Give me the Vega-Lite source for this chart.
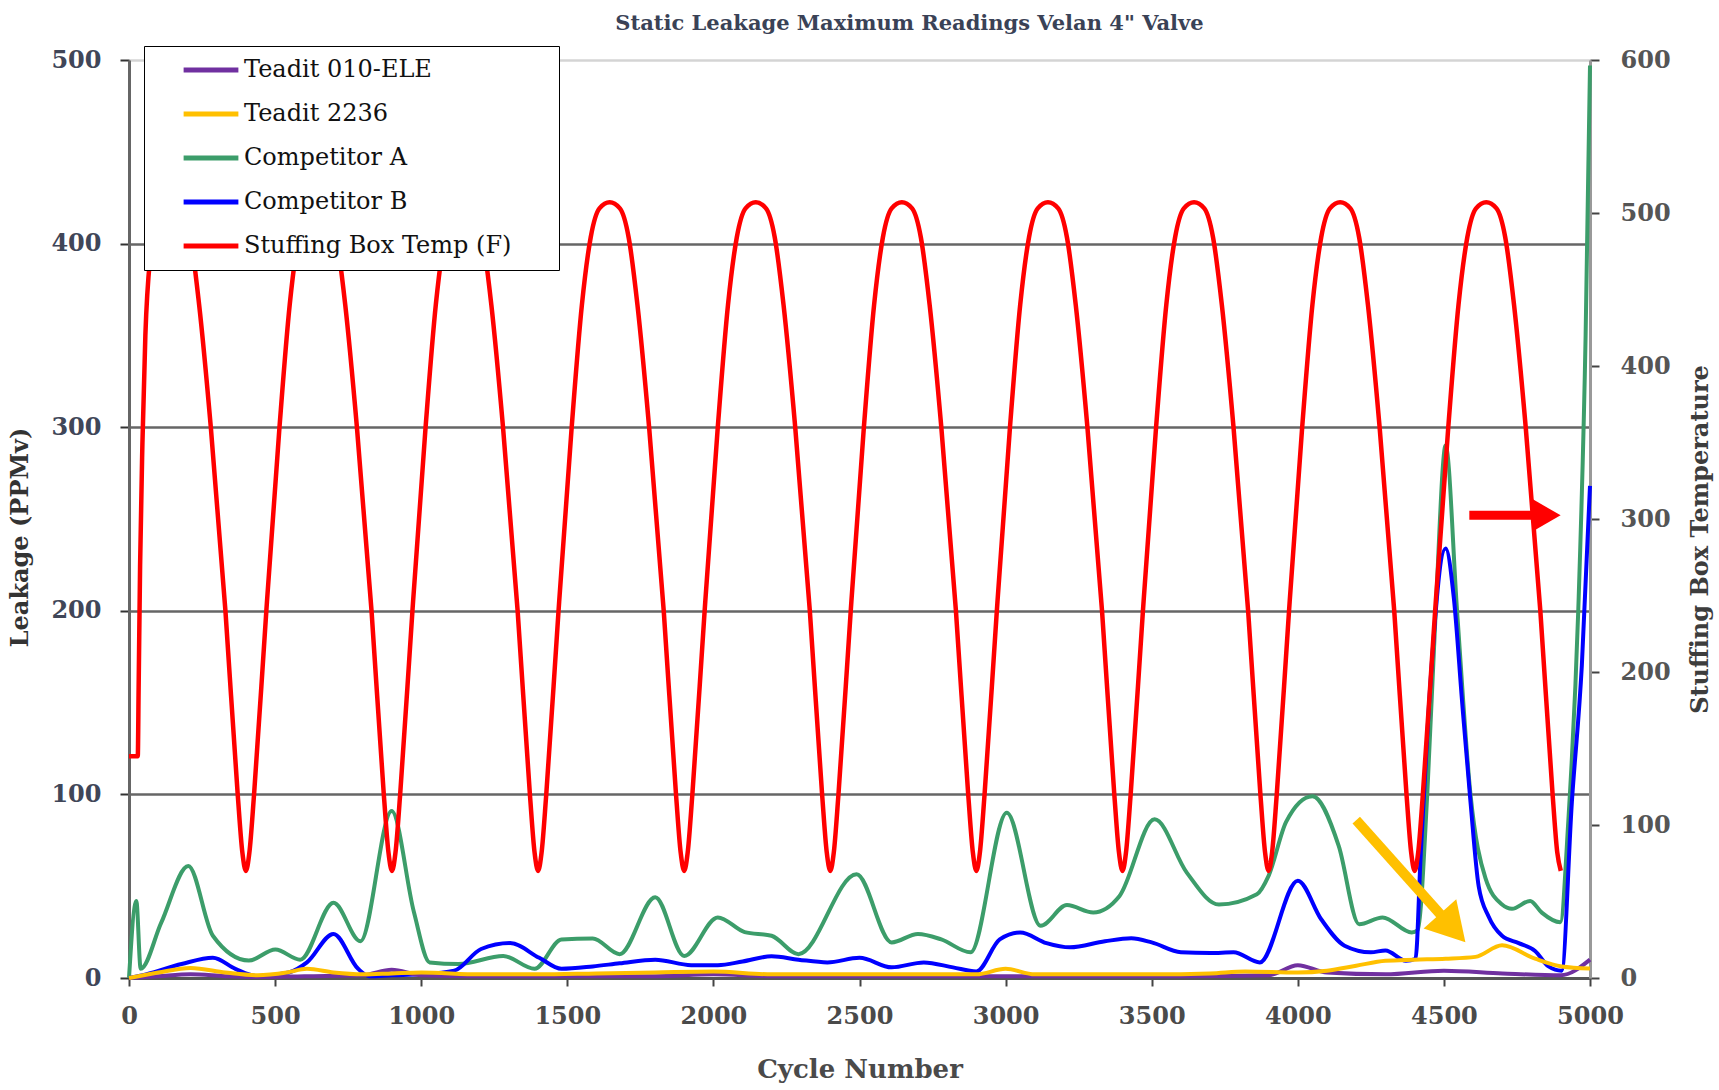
{
  "$schema": "https://vega.github.io/schema/vega-lite/v6.json",
  "autosize": {"type": "none"},
  "width": 1461,
  "height": 918,
  "padding": {"left": 129, "top": 60, "right": 129, "bottom": 112},
  "background": "white",
  "title": {"text": "Static Leakage Maximum Readings Velan 4\" Valve", "font": "DejaVu Serif", "fontSize": 21, "fontWeight": "bold", "color": "#3a4256", "anchor": "middle", "dx": 50, "offset": 12},
  "config": {"view": {"stroke": null}},
  "datasets": {
    "leak": [
      {"c":0,"s":"Competitor A","v":0},{"c":25,"s":"Competitor A","v":42},{"c":40,"s":"Competitor A","v":5},{"c":110,"s":"Competitor A","v":30},{"c":203,"s":"Competitor A","v":61},{"c":287,"s":"Competitor A","v":23},{"c":410,"s":"Competitor A","v":9.5},{"c":501,"s":"Competitor A","v":15.5},{"c":586,"s":"Competitor A","v":10},{"c":700,"s":"Competitor A","v":41},{"c":792,"s":"Competitor A","v":20},{"c":899,"s":"Competitor A","v":91},{"c":975,"s":"Competitor A","v":36},{"c":1029,"s":"Competitor A","v":8.5},{"c":1128,"s":"Competitor A","v":7.6},{"c":1281,"s":"Competitor A","v":12},{"c":1388,"s":"Competitor A","v":5},{"c":1480,"s":"Competitor A","v":21},{"c":1587,"s":"Competitor A","v":21.5},{"c":1679,"s":"Competitor A","v":13},{"c":1801,"s":"Competitor A","v":44},{"c":1900,"s":"Competitor A","v":12},{"c":2015,"s":"Competitor A","v":33},{"c":2107,"s":"Competitor A","v":25},{"c":2199,"s":"Competitor A","v":23},{"c":2291,"s":"Competitor A","v":13},{"c":2490,"s":"Competitor A","v":56.5},{"c":2610,"s":"Competitor A","v":19.4},{"c":2700,"s":"Competitor A","v":24},{"c":2780,"s":"Competitor A","v":21},{"c":2880,"s":"Competitor A","v":14},{"c":3004,"s":"Competitor A","v":90},{"c":3120,"s":"Competitor A","v":28.4},{"c":3210,"s":"Competitor A","v":39.7},{"c":3300,"s":"Competitor A","v":35.7},{"c":3390,"s":"Competitor A","v":44.7},{"c":3510,"s":"Competitor A","v":86.4},{"c":3620,"s":"Competitor A","v":57.4},{"c":3730,"s":"Competitor A","v":40},{"c":3860,"s":"Competitor A","v":45.6},{"c":3900,"s":"Competitor A","v":55.6},{"c":3960,"s":"Competitor A","v":85},{"c":4050,"s":"Competitor A","v":99},{"c":4140,"s":"Competitor A","v":72},{"c":4210,"s":"Competitor A","v":29.3},{"c":4290,"s":"Competitor A","v":33},{"c":4390,"s":"Competitor A","v":24.8},{"c":4410,"s":"Competitor A","v":26},{"c":4443,"s":"Competitor A","v":100},{"c":4472,"s":"Competitor A","v":200},{"c":4506,"s":"Competitor A","v":290},{"c":4545,"s":"Competitor A","v":200},{"c":4591,"s":"Competitor A","v":100},{"c":4642,"s":"Competitor A","v":54.5},{"c":4699,"s":"Competitor A","v":40},{"c":4733,"s":"Competitor A","v":37.7},{"c":4795,"s":"Competitor A","v":42},{"c":4835,"s":"Competitor A","v":35.6},{"c":4898,"s":"Competitor A","v":30.4},{"c":4926,"s":"Competitor A","v":86},{"c":4960,"s":"Competitor A","v":201},{"c":4985,"s":"Competitor A","v":350},{"c":5000,"s":"Competitor A","v":497},
      {"c":0,"s":"Competitor B","v":0},{"c":58,"s":"Competitor B","v":2},{"c":180,"s":"Competitor B","v":7.6},{"c":287,"s":"Competitor B","v":11},{"c":364,"s":"Competitor B","v":5},{"c":440,"s":"Competitor B","v":1},{"c":547,"s":"Competitor B","v":3},{"c":609,"s":"Competitor B","v":8.5},{"c":700,"s":"Competitor B","v":24},{"c":784,"s":"Competitor B","v":5},{"c":823,"s":"Competitor B","v":1},{"c":900,"s":"Competitor B","v":1.5},{"c":1000,"s":"Competitor B","v":2},{"c":1113,"s":"Competitor B","v":4},{"c":1205,"s":"Competitor B","v":15.8},{"c":1304,"s":"Competitor B","v":19},{"c":1404,"s":"Competitor B","v":11},{"c":1480,"s":"Competitor B","v":5},{"c":1587,"s":"Competitor B","v":6.3},{"c":1679,"s":"Competitor B","v":8},{"c":1801,"s":"Competitor B","v":10},{"c":1924,"s":"Competitor B","v":7},{"c":2015,"s":"Competitor B","v":7},{"c":2100,"s":"Competitor B","v":9},{"c":2199,"s":"Competitor B","v":11.8},{"c":2291,"s":"Competitor B","v":10},{"c":2390,"s":"Competitor B","v":8.5},{"c":2500,"s":"Competitor B","v":11},{"c":2610,"s":"Competitor B","v":5.8},{"c":2720,"s":"Competitor B","v":8.5},{"c":2820,"s":"Competitor B","v":5.8},{"c":2900,"s":"Competitor B","v":3.6},{"c":2980,"s":"Competitor B","v":21},{"c":3050,"s":"Competitor B","v":24.8},{"c":3140,"s":"Competitor B","v":19},{"c":3220,"s":"Competitor B","v":16.7},{"c":3340,"s":"Competitor B","v":20},{"c":3430,"s":"Competitor B","v":21.6},{"c":3500,"s":"Competitor B","v":19.4},{"c":3600,"s":"Competitor B","v":14},{"c":3700,"s":"Competitor B","v":13.6},{"c":3780,"s":"Competitor B","v":14},{"c":3870,"s":"Competitor B","v":8.5},{"c":4000,"s":"Competitor B","v":53},{"c":4080,"s":"Competitor B","v":32},{"c":4160,"s":"Competitor B","v":17.6},{"c":4250,"s":"Competitor B","v":14},{"c":4300,"s":"Competitor B","v":15},{"c":4370,"s":"Competitor B","v":9.4},{"c":4403,"s":"Competitor B","v":10.5},{"c":4420,"s":"Competitor B","v":65},{"c":4449,"s":"Competitor B","v":149},{"c":4506,"s":"Competitor B","v":234},{"c":4534,"s":"Competitor B","v":207},{"c":4563,"s":"Competitor B","v":149},{"c":4591,"s":"Competitor B","v":96},{"c":4619,"s":"Competitor B","v":50},{"c":4653,"s":"Competitor B","v":33.5},{"c":4699,"s":"Competitor B","v":23},{"c":4756,"s":"Competitor B","v":19},{"c":4812,"s":"Competitor B","v":14.7},{"c":4858,"s":"Competitor B","v":6.3},{"c":4903,"s":"Competitor B","v":4},{"c":4938,"s":"Competitor B","v":96},{"c":4972,"s":"Competitor B","v":170},{"c":5000,"s":"Competitor B","v":268},
      {"c":0,"s":"Teadit 010-ELE","v":0},{"c":100,"s":"Teadit 010-ELE","v":1},{"c":211,"s":"Teadit 010-ELE","v":2},{"c":330,"s":"Teadit 010-ELE","v":1},{"c":440,"s":"Teadit 010-ELE","v":0.5},{"c":600,"s":"Teadit 010-ELE","v":1},{"c":800,"s":"Teadit 010-ELE","v":1.5},{"c":899,"s":"Teadit 010-ELE","v":4.5},{"c":1000,"s":"Teadit 010-ELE","v":1.5},{"c":1200,"s":"Teadit 010-ELE","v":1},{"c":1500,"s":"Teadit 010-ELE","v":1},{"c":1800,"s":"Teadit 010-ELE","v":1},{"c":2000,"s":"Teadit 010-ELE","v":2},{"c":2200,"s":"Teadit 010-ELE","v":1},{"c":2500,"s":"Teadit 010-ELE","v":1},{"c":2800,"s":"Teadit 010-ELE","v":1},{"c":3000,"s":"Teadit 010-ELE","v":1},{"c":3300,"s":"Teadit 010-ELE","v":1},{"c":3600,"s":"Teadit 010-ELE","v":1},{"c":3900,"s":"Teadit 010-ELE","v":1.5},{"c":4000,"s":"Teadit 010-ELE","v":7},{"c":4100,"s":"Teadit 010-ELE","v":3},{"c":4300,"s":"Teadit 010-ELE","v":2},{"c":4500,"s":"Teadit 010-ELE","v":4},{"c":4700,"s":"Teadit 010-ELE","v":2.5},{"c":4900,"s":"Teadit 010-ELE","v":1.5},{"c":5000,"s":"Teadit 010-ELE","v":10},
      {"c":0,"s":"Teadit 2236","v":0},{"c":100,"s":"Teadit 2236","v":3},{"c":211,"s":"Teadit 2236","v":5.5},{"c":330,"s":"Teadit 2236","v":3},{"c":440,"s":"Teadit 2236","v":1.5},{"c":540,"s":"Teadit 2236","v":3},{"c":609,"s":"Teadit 2236","v":5},{"c":700,"s":"Teadit 2236","v":3},{"c":800,"s":"Teadit 2236","v":2},{"c":900,"s":"Teadit 2236","v":2.5},{"c":1000,"s":"Teadit 2236","v":3},{"c":1200,"s":"Teadit 2236","v":2},{"c":1400,"s":"Teadit 2236","v":2},{"c":1600,"s":"Teadit 2236","v":2.5},{"c":1800,"s":"Teadit 2236","v":3},{"c":2000,"s":"Teadit 2236","v":3.5},{"c":2200,"s":"Teadit 2236","v":2},{"c":2400,"s":"Teadit 2236","v":2},{"c":2600,"s":"Teadit 2236","v":2},{"c":2800,"s":"Teadit 2236","v":2},{"c":2900,"s":"Teadit 2236","v":2},{"c":3000,"s":"Teadit 2236","v":5},{"c":3100,"s":"Teadit 2236","v":2},{"c":3300,"s":"Teadit 2236","v":2},{"c":3500,"s":"Teadit 2236","v":2},{"c":3700,"s":"Teadit 2236","v":2.5},{"c":3820,"s":"Teadit 2236","v":3.6},{"c":4000,"s":"Teadit 2236","v":3},{"c":4100,"s":"Teadit 2236","v":4},{"c":4200,"s":"Teadit 2236","v":6.7},{"c":4300,"s":"Teadit 2236","v":9.4},{"c":4400,"s":"Teadit 2236","v":10},{"c":4506,"s":"Teadit 2236","v":10.5},{"c":4608,"s":"Teadit 2236","v":11.5},{"c":4699,"s":"Teadit 2236","v":17.8},{"c":4812,"s":"Teadit 2236","v":10.5},{"c":4903,"s":"Teadit 2236","v":6.3},{"c":5000,"s":"Teadit 2236","v":5.2}
    ],
    "temp": [
      {"c":0,"s":"Stuffing Box Temp (F)","t":145},{"c":30,"s":"Stuffing Box Temp (F)","t":145},{"c":33,"s":"Stuffing Box Temp (F)","t":190},{"c":38,"s":"Stuffing Box Temp (F)","t":270},{"c":46,"s":"Stuffing Box Temp (F)","t":350},{"c":56,"s":"Stuffing Box Temp (F)","t":420},{"c":72,"s":"Stuffing Box Temp (F)","t":470},{"c":100,"s":"Stuffing Box Temp (F)","t":498},{"c":140,"s":"Stuffing Box Temp (F)","t":507},{"c":180,"s":"Stuffing Box Temp (F)","t":498},{"c":210,"s":"Stuffing Box Temp (F)","t":484},{"c":240,"s":"Stuffing Box Temp (F)","t":440},{"c":280,"s":"Stuffing Box Temp (F)","t":360},{"c":330,"s":"Stuffing Box Temp (F)","t":240},{"c":372,"s":"Stuffing Box Temp (F)","t":120},{"c":388,"s":"Stuffing Box Temp (F)","t":82},{"c":400,"s":"Stuffing Box Temp (F)","t":70},
      {"c":412,"s":"Stuffing Box Temp (F)","t":82},{"c":428,"s":"Stuffing Box Temp (F)","t":120},{"c":470,"s":"Stuffing Box Temp (F)","t":240},{"c":515,"s":"Stuffing Box Temp (F)","t":360},{"c":550,"s":"Stuffing Box Temp (F)","t":440},{"c":580,"s":"Stuffing Box Temp (F)","t":484},{"c":610,"s":"Stuffing Box Temp (F)","t":503},{"c":645,"s":"Stuffing Box Temp (F)","t":507},{"c":680,"s":"Stuffing Box Temp (F)","t":503},{"c":710,"s":"Stuffing Box Temp (F)","t":484},{"c":740,"s":"Stuffing Box Temp (F)","t":440},{"c":780,"s":"Stuffing Box Temp (F)","t":360},{"c":830,"s":"Stuffing Box Temp (F)","t":240},{"c":872,"s":"Stuffing Box Temp (F)","t":120},{"c":888,"s":"Stuffing Box Temp (F)","t":82},{"c":900,"s":"Stuffing Box Temp (F)","t":70},
      {"c":912,"s":"Stuffing Box Temp (F)","t":82},{"c":928,"s":"Stuffing Box Temp (F)","t":120},{"c":970,"s":"Stuffing Box Temp (F)","t":240},{"c":1015,"s":"Stuffing Box Temp (F)","t":360},{"c":1050,"s":"Stuffing Box Temp (F)","t":440},{"c":1080,"s":"Stuffing Box Temp (F)","t":484},{"c":1110,"s":"Stuffing Box Temp (F)","t":503},{"c":1145,"s":"Stuffing Box Temp (F)","t":507},{"c":1180,"s":"Stuffing Box Temp (F)","t":503},{"c":1210,"s":"Stuffing Box Temp (F)","t":484},{"c":1240,"s":"Stuffing Box Temp (F)","t":440},{"c":1280,"s":"Stuffing Box Temp (F)","t":360},{"c":1330,"s":"Stuffing Box Temp (F)","t":240},{"c":1372,"s":"Stuffing Box Temp (F)","t":120},{"c":1388,"s":"Stuffing Box Temp (F)","t":82},{"c":1400,"s":"Stuffing Box Temp (F)","t":70},
      {"c":1412,"s":"Stuffing Box Temp (F)","t":82},{"c":1428,"s":"Stuffing Box Temp (F)","t":120},{"c":1470,"s":"Stuffing Box Temp (F)","t":240},{"c":1515,"s":"Stuffing Box Temp (F)","t":360},{"c":1550,"s":"Stuffing Box Temp (F)","t":440},{"c":1580,"s":"Stuffing Box Temp (F)","t":484},{"c":1610,"s":"Stuffing Box Temp (F)","t":503},{"c":1645,"s":"Stuffing Box Temp (F)","t":507},{"c":1680,"s":"Stuffing Box Temp (F)","t":503},{"c":1710,"s":"Stuffing Box Temp (F)","t":484},{"c":1740,"s":"Stuffing Box Temp (F)","t":440},{"c":1780,"s":"Stuffing Box Temp (F)","t":360},{"c":1830,"s":"Stuffing Box Temp (F)","t":240},{"c":1872,"s":"Stuffing Box Temp (F)","t":120},{"c":1888,"s":"Stuffing Box Temp (F)","t":82},{"c":1900,"s":"Stuffing Box Temp (F)","t":70},
      {"c":1912,"s":"Stuffing Box Temp (F)","t":82},{"c":1928,"s":"Stuffing Box Temp (F)","t":120},{"c":1970,"s":"Stuffing Box Temp (F)","t":240},{"c":2015,"s":"Stuffing Box Temp (F)","t":360},{"c":2050,"s":"Stuffing Box Temp (F)","t":440},{"c":2080,"s":"Stuffing Box Temp (F)","t":484},{"c":2110,"s":"Stuffing Box Temp (F)","t":503},{"c":2145,"s":"Stuffing Box Temp (F)","t":507},{"c":2180,"s":"Stuffing Box Temp (F)","t":503},{"c":2210,"s":"Stuffing Box Temp (F)","t":484},{"c":2240,"s":"Stuffing Box Temp (F)","t":440},{"c":2280,"s":"Stuffing Box Temp (F)","t":360},{"c":2330,"s":"Stuffing Box Temp (F)","t":240},{"c":2372,"s":"Stuffing Box Temp (F)","t":120},{"c":2388,"s":"Stuffing Box Temp (F)","t":82},{"c":2400,"s":"Stuffing Box Temp (F)","t":70},
      {"c":2412,"s":"Stuffing Box Temp (F)","t":82},{"c":2428,"s":"Stuffing Box Temp (F)","t":120},{"c":2470,"s":"Stuffing Box Temp (F)","t":240},{"c":2515,"s":"Stuffing Box Temp (F)","t":360},{"c":2550,"s":"Stuffing Box Temp (F)","t":440},{"c":2580,"s":"Stuffing Box Temp (F)","t":484},{"c":2610,"s":"Stuffing Box Temp (F)","t":503},{"c":2645,"s":"Stuffing Box Temp (F)","t":507},{"c":2680,"s":"Stuffing Box Temp (F)","t":503},{"c":2710,"s":"Stuffing Box Temp (F)","t":484},{"c":2740,"s":"Stuffing Box Temp (F)","t":440},{"c":2780,"s":"Stuffing Box Temp (F)","t":360},{"c":2830,"s":"Stuffing Box Temp (F)","t":240},{"c":2872,"s":"Stuffing Box Temp (F)","t":120},{"c":2888,"s":"Stuffing Box Temp (F)","t":82},{"c":2900,"s":"Stuffing Box Temp (F)","t":70},
      {"c":2912,"s":"Stuffing Box Temp (F)","t":82},{"c":2928,"s":"Stuffing Box Temp (F)","t":120},{"c":2970,"s":"Stuffing Box Temp (F)","t":240},{"c":3015,"s":"Stuffing Box Temp (F)","t":360},{"c":3050,"s":"Stuffing Box Temp (F)","t":440},{"c":3080,"s":"Stuffing Box Temp (F)","t":484},{"c":3110,"s":"Stuffing Box Temp (F)","t":503},{"c":3145,"s":"Stuffing Box Temp (F)","t":507},{"c":3180,"s":"Stuffing Box Temp (F)","t":503},{"c":3210,"s":"Stuffing Box Temp (F)","t":484},{"c":3240,"s":"Stuffing Box Temp (F)","t":440},{"c":3280,"s":"Stuffing Box Temp (F)","t":360},{"c":3330,"s":"Stuffing Box Temp (F)","t":240},{"c":3372,"s":"Stuffing Box Temp (F)","t":120},{"c":3388,"s":"Stuffing Box Temp (F)","t":82},{"c":3400,"s":"Stuffing Box Temp (F)","t":70},
      {"c":3412,"s":"Stuffing Box Temp (F)","t":82},{"c":3428,"s":"Stuffing Box Temp (F)","t":120},{"c":3470,"s":"Stuffing Box Temp (F)","t":240},{"c":3515,"s":"Stuffing Box Temp (F)","t":360},{"c":3550,"s":"Stuffing Box Temp (F)","t":440},{"c":3580,"s":"Stuffing Box Temp (F)","t":484},{"c":3610,"s":"Stuffing Box Temp (F)","t":503},{"c":3645,"s":"Stuffing Box Temp (F)","t":507},{"c":3680,"s":"Stuffing Box Temp (F)","t":503},{"c":3710,"s":"Stuffing Box Temp (F)","t":484},{"c":3740,"s":"Stuffing Box Temp (F)","t":440},{"c":3780,"s":"Stuffing Box Temp (F)","t":360},{"c":3830,"s":"Stuffing Box Temp (F)","t":240},{"c":3872,"s":"Stuffing Box Temp (F)","t":120},{"c":3888,"s":"Stuffing Box Temp (F)","t":82},{"c":3900,"s":"Stuffing Box Temp (F)","t":70},
      {"c":3912,"s":"Stuffing Box Temp (F)","t":82},{"c":3928,"s":"Stuffing Box Temp (F)","t":120},{"c":3970,"s":"Stuffing Box Temp (F)","t":240},{"c":4015,"s":"Stuffing Box Temp (F)","t":360},{"c":4050,"s":"Stuffing Box Temp (F)","t":440},{"c":4080,"s":"Stuffing Box Temp (F)","t":484},{"c":4110,"s":"Stuffing Box Temp (F)","t":503},{"c":4145,"s":"Stuffing Box Temp (F)","t":507},{"c":4180,"s":"Stuffing Box Temp (F)","t":503},{"c":4210,"s":"Stuffing Box Temp (F)","t":484},{"c":4240,"s":"Stuffing Box Temp (F)","t":440},{"c":4280,"s":"Stuffing Box Temp (F)","t":360},{"c":4330,"s":"Stuffing Box Temp (F)","t":240},{"c":4372,"s":"Stuffing Box Temp (F)","t":120},{"c":4388,"s":"Stuffing Box Temp (F)","t":82},{"c":4400,"s":"Stuffing Box Temp (F)","t":70},
      {"c":4412,"s":"Stuffing Box Temp (F)","t":82},{"c":4428,"s":"Stuffing Box Temp (F)","t":120},{"c":4470,"s":"Stuffing Box Temp (F)","t":240},{"c":4515,"s":"Stuffing Box Temp (F)","t":360},{"c":4550,"s":"Stuffing Box Temp (F)","t":440},{"c":4580,"s":"Stuffing Box Temp (F)","t":484},{"c":4610,"s":"Stuffing Box Temp (F)","t":503},{"c":4645,"s":"Stuffing Box Temp (F)","t":507},{"c":4680,"s":"Stuffing Box Temp (F)","t":503},{"c":4710,"s":"Stuffing Box Temp (F)","t":484},{"c":4740,"s":"Stuffing Box Temp (F)","t":440},{"c":4780,"s":"Stuffing Box Temp (F)","t":360},{"c":4830,"s":"Stuffing Box Temp (F)","t":240},{"c":4872,"s":"Stuffing Box Temp (F)","t":120},{"c":4888,"s":"Stuffing Box Temp (F)","t":82},{"c":4900,"s":"Stuffing Box Temp (F)","t":70}
    ],
    "shafts": [
      {"name": "red arrow", "c": 4587, "c2": 4852, "v": 252, "v2": 252},
      {"name": "yellow arrow", "c": 4200, "c2": 4530, "v": 86, "v2": 27.2}
    ],
    "heads": [
      {"name": "red arrow", "c": 4852, "v": 252},
      {"name": "yellow arrow", "c": 4530, "v": 27.2}
    ]
  },
  "resolve": {"scale": {"y": "independent"}},
  "layer": [
    {
      "data": {"name": "leak"},
      "mark": {"type": "line", "interpolate": "monotone", "strokeWidth": 4},
      "encoding": {
        "x": {"field": "c", "type": "quantitative", "scale": {"domain": [0, 5000], "nice": false},
          "axis": {"values": [0,500,1000,1500,2000,2500,3000,3500,4000,4500,5000], "format": "d", "title": "Cycle Number", "grid": false, "domainColor": "#555555", "domainWidth": 3, "tickColor": "#444444", "tickSize": 8, "tickWidth": 2, "labelFlush": false, "labelFont": "DejaVu Serif", "labelFontSize": 24, "labelFontWeight": "bold", "labelColor": "#4a4a4a", "labelPadding": 18, "titleFont": "DejaVu Serif", "titleFontSize": 26, "titleFontWeight": "bold", "titleColor": "#4a4a4a", "titlePadding": 28}},
        "y": {"field": "v", "type": "quantitative", "scale": {"domain": [0, 500], "nice": false},
          "axis": {"orient": "left", "values": [0,100,200,300,400,500], "title": "Leakage (PPMv)", "titleY": 477, "grid": true, "gridColor": {"condition": {"test": "datum.value === 500", "value": "#d4d4d4"}, "value": "#666666"}, "gridWidth": 2.5, "domainColor": "#666666", "domainWidth": 3, "tickColor": "#333333", "tickSize": 9, "tickWidth": 2, "labelFont": "DejaVu Serif", "labelFontSize": 24, "labelFontWeight": "bold", "labelColor": "#404658", "labelPadding": 19, "titleFont": "DejaVu Serif", "titleFontSize": 24, "titleFontWeight": "bold", "titleColor": "#333333", "titlePadding": 18}},
        "color": {"field": "s", "type": "nominal",
          "scale": {"domain": ["Teadit 010-ELE", "Teadit 2236", "Competitor A", "Competitor B", "Stuffing Box Temp (F)"], "range": ["#7030A0", "#FFC000", "#3C9D6A", "#0000FF", "#FF0000"]},
          "legend": {"title": null, "orient": "none", "legendX": 15, "legendY": -14, "strokeColor": "#000000", "fillColor": "#ffffff", "padding": 12, "symbolType": "stroke", "symbolSize": 3000, "symbolStrokeWidth": 5, "labelFont": "DejaVu Serif", "labelFontSize": 24, "labelColor": "#111111", "rowPadding": 20, "symbolOffset": 25, "labelOffset": 3, "clipHeight": 24, "labelLimit": 500, "labelExpr": "datum.label + '\u2800\u2800'"}}
      }
    },
    {
      "data": {"name": "temp"},
      "mark": {"type": "line", "interpolate": "monotone", "strokeWidth": 4.5},
      "encoding": {
        "x": {"field": "c", "type": "quantitative", "scale": {"domain": [0, 5000], "nice": false}},
        "y": {"field": "t", "type": "quantitative", "scale": {"domain": [0, 600], "nice": false},
          "axis": {"orient": "right", "values": [0,100,200,300,400,500,600], "title": "Stuffing Box Temperature", "titleAngle": 270, "titleY": 479, "grid": false, "domainColor": "#999999", "domainWidth": 3, "tickColor": "#444444", "tickSize": 9, "tickWidth": 2, "labelFont": "DejaVu Serif", "labelFontSize": 24, "labelFontWeight": "bold", "labelColor": "#555555", "labelPadding": 21, "titleFont": "DejaVu Serif", "titleFontSize": 24, "titleFontWeight": "bold", "titleColor": "#3d3d3d", "titlePadding": 42}},
        "color": {"field": "s", "type": "nominal",
          "scale": {"domain": ["Teadit 010-ELE", "Teadit 2236", "Competitor A", "Competitor B", "Stuffing Box Temp (F)"], "range": ["#7030A0", "#FFC000", "#3C9D6A", "#0000FF", "#FF0000"]},
          "legend": {"title": null, "orient": "none", "legendX": 15, "legendY": -14, "strokeColor": "#000000", "fillColor": "#ffffff", "padding": 12, "symbolType": "stroke", "symbolSize": 3000, "symbolStrokeWidth": 5, "labelFont": "DejaVu Serif", "labelFontSize": 24, "labelColor": "#111111", "rowPadding": 20, "symbolOffset": 25, "labelOffset": 3, "clipHeight": 24, "labelLimit": 500, "labelExpr": "datum.label + '\u2800\u2800'"}}
      }
    },
    {
      "layer": [
        {
          "data": {"name": "shafts"},
          "transform": [{"filter": "datum.name === 'red arrow'"}],
          "mark": {"type": "rule", "color": "#FF0000", "strokeWidth": 9},
          "encoding": {
            "x": {"field": "c", "type": "quantitative", "scale": {"domain": [0, 5000], "nice": false}},
            "x2": {"field": "c2"},
            "y": {"field": "v", "type": "quantitative", "scale": {"domain": [0, 500], "nice": false}, "axis": null},
            "y2": {"field": "v2"}
          }
        },
        {
          "data": {"name": "shafts"},
          "transform": [{"filter": "datum.name === 'yellow arrow'"}],
          "mark": {"type": "rule", "color": "#FFC000", "strokeWidth": 10},
          "encoding": {
            "x": {"field": "c", "type": "quantitative", "scale": {"domain": [0, 5000], "nice": false}},
            "x2": {"field": "c2"},
            "y": {"field": "v", "type": "quantitative", "scale": {"domain": [0, 500], "nice": false}, "axis": null},
            "y2": {"field": "v2"}
          }
        },
        {
          "data": {"name": "heads"},
          "transform": [{"filter": "datum.name === 'red arrow'"}],
          "mark": {"type": "point", "shape": "triangle-right", "filled": true, "color": "#FF0000", "opacity": 1, "size": 1024, "angle": 0},
          "encoding": {
            "x": {"field": "c", "type": "quantitative", "scale": {"domain": [0, 5000], "nice": false}},
            "y": {"field": "v", "type": "quantitative", "scale": {"domain": [0, 500], "nice": false}, "axis": null}
          }
        },
        {
          "data": {"name": "heads"},
          "transform": [{"filter": "datum.name === 'yellow arrow'"}],
          "mark": {"type": "point", "shape": "triangle-right", "filled": true, "color": "#FFC000", "opacity": 1, "size": 1936, "angle": 48},
          "encoding": {
            "x": {"field": "c", "type": "quantitative", "scale": {"domain": [0, 5000], "nice": false}},
            "y": {"field": "v", "type": "quantitative", "scale": {"domain": [0, 500], "nice": false}, "axis": null}
          }
        }
      ]
    }
  ]
}
